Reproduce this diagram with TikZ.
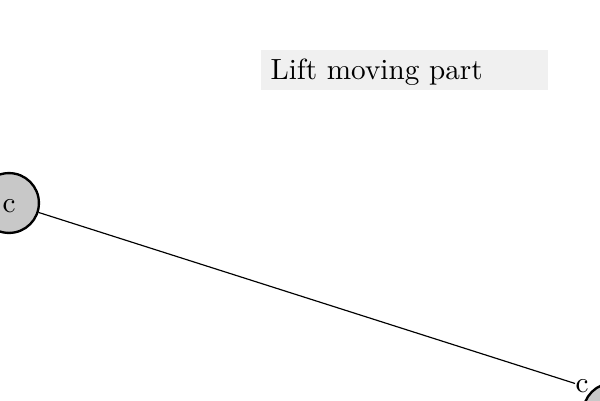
\documentclass[tikz,border=0pt]{standalone}
\usepackage{xcolor}
\definecolor{partgray}{RGB}{200,200,200}
\definecolor{notegray}{RGB}{240,240,240}
\tikzset{
	part node/.style={circle,draw,thick,fill=partgray,minimum size=20.5pt,inner sep=0pt,
		text height=6.5pt},
	note/.style={fill=notegray,inner xsep=3.4pt,inner ysep=0pt,text height=9.9pt,
		text depth=3.8pt,text width=91.8pt,align=left,anchor=base west}
}

\begin{document}
\begin{tikzpicture}[x=0.3425pt,y=-0.3425pt]
	\useasboundingbox (0,0) rectangle (600,400);
	\node [note] (title) at (260,79) {Lift moving part};
	\node [part node] (lift) at (9,203) {c};
	\node [part node,label={[name=partlabel,inner sep=0pt,label distance=0pt]140:c}] (part) at (613,413) {};
	\draw (lift) -- (partlabel);
\end{tikzpicture}
\end{document}
